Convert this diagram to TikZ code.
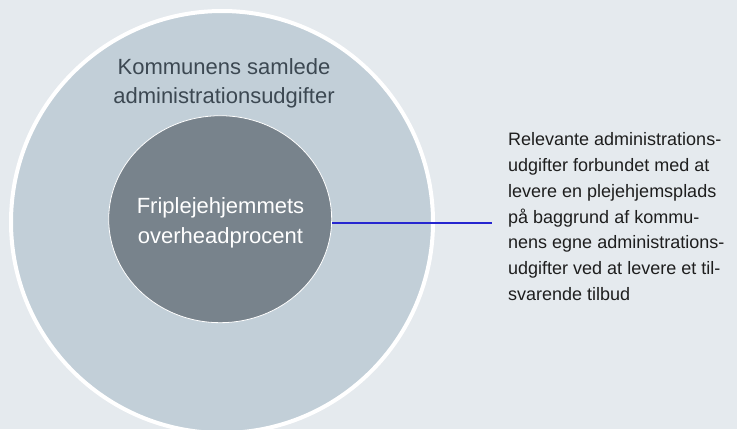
\documentclass[tikz,border=0pt]{standalone}
\usepackage{fontspec}
\setmainfont{Liberation Sans}
\usetikzlibrary{shapes.geometric}
\definecolor{bggray}{HTML}{E5EAEE}
\definecolor{outerfill}{HTML}{C2CFD8}
\definecolor{innerfill}{HTML}{78838C}
\definecolor{outertext}{HTML}{3C4852}
\definecolor{notetext}{HTML}{1E1E1E}
\definecolor{lineblue}{HTML}{2626D0}
\begin{document}
\begin{tikzpicture}[x=1pt,y=-1pt,
	circletext/.style={font=\fontsize{22}{29.6}\selectfont,align=center,inner sep=0pt,anchor=north},
	notetext/.style={font=\fontsize{18}{25.8}\selectfont,align=left,inner sep=0pt,anchor=north west,text=notetext}]
	%Background
		\fill [bggray] (0, 0) rectangle (737, 429);
		\useasboundingbox (0, 0) rectangle (737, 429);
		\clip (0, 0) rectangle (737, 429);
	%Outer circle
		\node [circle,fill=outerfill,draw=white,line width=4pt,minimum size=422pt,inner sep=0pt] (outer) at (222, 222) {};
		\node [circletext,text=outertext] (outerlabel) at (224, 58) {Kommunens samlede\\administrationsudgifter};
	%Inner circle
		\node [ellipse,fill=innerfill,draw=white,line width=0.8pt,minimum width=223pt,minimum height=207pt,inner sep=0pt] (inner) at (220.2, 219.2) {};
		\node [circletext,text=white] (innerlabel) at (220.5, 197.5) {Friplejehjemmets\\overheadprocent};
	%Line to note
		\coordinate (tip) at (492, 222.5);
		\draw [lineblue,line width=2pt] (inner.east |- tip) -- (tip);
	%Note
		\node [notetext] (note) at (508, 132.5) {Relevante administrations-\\udgifter forbundet med at\\levere en plejehjemsplads\\på baggrund af kommu-\\nens egne administrations-\\udgifter ved at levere et til-\\svarende tilbud};
\end{tikzpicture}
\end{document}
